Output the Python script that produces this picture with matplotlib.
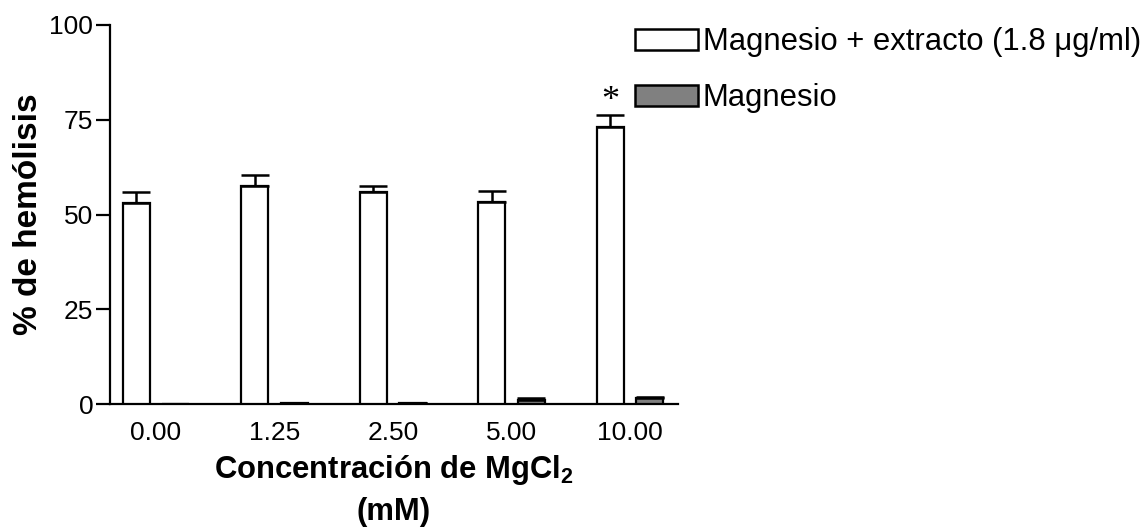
import numpy as np
import matplotlib
matplotlib.use("Agg")
import matplotlib.pyplot as plt
from matplotlib.patches import Patch

plt.rcParams['font.family'] = ['Liberation Sans', 'DejaVu Sans']
plt.rcParams['mathtext.fontset'] = 'custom'
plt.rcParams['mathtext.rm'] = 'Liberation Sans:bold'
plt.rcParams['mathtext.default'] = 'rm'

# Datos
concentraciones = ["0.00", "1.25", "2.50", "5.00", "10.00"]
con_extracto = [53.0, 57.6, 56.0, 53.2, 73.0]
con_extracto_err = [3.0, 2.8, 1.4, 3.1, 3.3]
solo_magnesio = [0.0, 0.3, 0.3, 1.0, 1.5]
solo_magnesio_err = [0.0, 0.0, 0.0, 0.6, 0.3]

x = np.arange(len(concentraciones))
ancho = 0.228
desp = 0.165

fig = plt.figure(figsize=(11.46, 5.27), dpi=100)
ax = fig.add_axes([110/1146, 1 - 404/527, (678-110)/1146, (404-25)/527])

ax.bar(x - desp, con_extracto, ancho, color='white', edgecolor='black', linewidth=1.6,
       yerr=[np.zeros(len(x)), con_extracto_err], capsize=10,
       error_kw=dict(elinewidth=1.8, capthick=1.8, ecolor='black'), zorder=3)
ax.bar(x + desp, solo_magnesio, ancho, color='#808080', edgecolor='black', linewidth=1.6,
       yerr=[np.zeros(len(x)), solo_magnesio_err], capsize=10,
       error_kw=dict(elinewidth=1.8, capthick=1.8, ecolor='black'), zorder=3)

# asterisco de significancia
ax.text(x[-1] - desp, con_extracto[-1] + con_extracto_err[-1] - 0.8, "*",
        ha='center', va='bottom', fontsize=26, family='Liberation Serif')

ax.set_xlim(-0.388, 4.405)
ax.set_ylim(0, 100)
ax.set_yticks([0, 25, 50, 75, 100])
ax.set_xticks(x)
ax.set_xticklabels(concentraciones)
ax.tick_params(axis='y', length=10, width=1.6, labelsize=19, pad=2)
ax.tick_params(axis='x', length=0, labelsize=19, pad=12)
for s in ['top', 'right']:
    ax.spines[s].set_visible(False)
for s in ['left', 'bottom']:
    ax.spines[s].set_linewidth(1.6)

ax.set_ylabel("% de hemólisis", fontsize=24, fontweight='bold', labelpad=4)
ax.set_xlabel("Concentración de MgCl$_2$\n(mM)", fontsize=22.3, fontweight='bold',
              labelpad=6, linespacing=1.45)

handles = [Patch(facecolor='white', edgecolor='black', linewidth=1.8),
           Patch(facecolor='#808080', edgecolor='black', linewidth=1.8)]
fig.legend(handles, ["Magnesio + extracto (1.8 μg/ml)", "Magnesio"],
           loc='upper left', bbox_to_anchor=(629/1146, 1 - 21/527), frameon=False,
           fontsize=22.3, handlelength=2.03, handleheight=0.65, handletextpad=0.15,
           labelspacing=0.84, borderaxespad=0, borderpad=0.2)

fig.savefig("out.png", dpi=100)
